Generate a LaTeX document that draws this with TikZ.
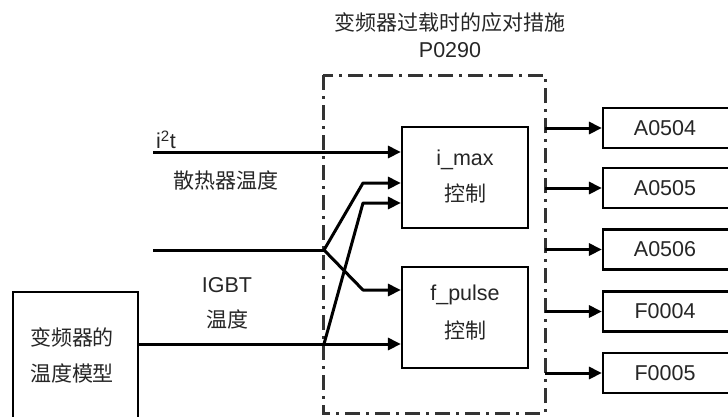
\documentclass[tikz,border=0pt]{standalone}
\usepackage{fontspec}
\setmainfont{Liberation Sans}
\newfontfamily\cjk{Noto Sans CJK SC}
\usetikzlibrary{arrows.meta}
\begin{document}
\begin{tikzpicture}[x=1pt,y=-1pt,
  box/.style={draw=black,line width=2.2pt,minimum width=126pt,minimum height=101pt,inner sep=0pt},
  outbox/.style={draw=black,line width=2.2pt,minimum width=134pt,minimum height=40pt,inner sep=0pt},
  lbl/.style={font=\fontsize{21.5}{24}\selectfont,text=black!85,inner sep=0pt},
  clbl/.style={font=\cjk\fontsize{21}{24}\selectfont,text=black!85,inner sep=0pt},
  conn/.style={line width=3pt,line join=round},
  arr/.style={conn,-{Triangle[length=13pt,width=12pt]}},
  frame/.style={line width=3pt,black!80,dash pattern=on 15pt off 6pt on 3pt off 6pt}]
\useasboundingbox (0,0) rectangle (728,416);
% title
\node[clbl] (title) at (450,22) {变频器过载时的应对措施};
\node[lbl] (par) at (450,50) {P0290};
% dash-dot frame
\draw[frame] (323,75) rectangle (545,413);
% control boxes
\node[box] (imax) at (465,177.5) {};
\node[lbl] (imaxt) at (465,160) {i\_max};
\node[clbl] (imaxc) at (465,193) {控制};
\node[box] (fpul) at (465,317.5) {};
\node[lbl] (fpult) at (465,295) {f\_pulse};
\node[clbl] (fpulc) at (465,330) {控制};
% model box
\node[draw=black,line width=2.2pt,minimum width=125pt,minimum height=140pt,inner sep=0pt] (model) at (75.5,362) {};
\node[clbl] (m1) at (72,337) {变频器的};
\node[clbl] (m2) at (72,373) {温度模型};
% output boxes
\node[outbox] (o1) at (670,128) {};
\node[outbox] (o2) at (670,188) {};
\node[outbox] (o3) at (670,249.5) {};
\node[outbox] (o4) at (670,311.5) {};
\node[outbox] (o5) at (670,373) {};
\node[lbl] at (665,128) {A0504};
\node[lbl] at (665,188) {A0505};
\node[lbl] at (665,249.5) {A0506};
\node[lbl] at (665,311.5) {F0004};
\node[lbl] at (665,373) {F0005};
% input labels
\node[lbl] (i2tl) at (166,140) {i\textsuperscript{2}t};
\node[clbl] (hs) at (226,181) {散热器温度};
\node[lbl] (igbt) at (227,285) {IGBT};
\node[clbl] (igbtt) at (227,319) {温度};
% inputs
\coordinate (i2t) at (153,152);
\coordinate (hsin) at (153,250);
\coordinate (br1) at (324,250);
\coordinate (br2) at (324,344);
\draw[arr] (i2t) -- (imax.west |- i2t);
\draw[conn] (hsin) -- (br1);
\draw[arr] (br1) -- (363,183) -- (imax.west |- 0,183);
\draw[arr] (br1) -- (363,290) -- (fpul.west |- 0,290);
\draw[arr] (model.east |- br2) -- (fpul.west |- br2);
\draw[arr] (br2) -- (363,203) -- (imax.west |- 0,203);
% outputs
\foreach \o in {o1,o2,o3,o4,o5}{
  \draw[arr] (545,0 |- \o.west) -- (\o.west);
}
\end{tikzpicture}
\end{document}
